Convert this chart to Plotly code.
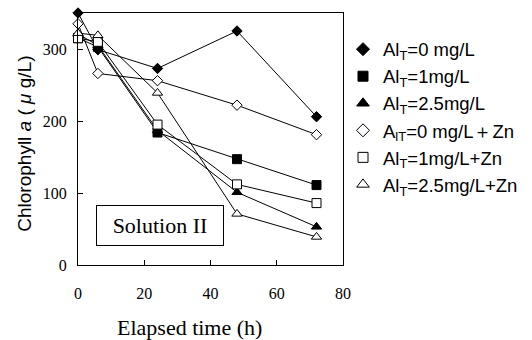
import plotly.graph_objects as go

# Elapsed time (h)
hours = [0, 6, 24, 48, 72]

# Chlorophyll a (µg/L) for each treatment, Solution II
al_0 = [350, 299, 273, 325, 206]
al_1 = [315, 303, 184, 147, 111]
al_25 = [321, 305, 187, 101, 53]
al_0_zn = [335, 266, 256, 222, 181]
al_1_zn = [315, 310, 195, 112, 86]
al_25_zn = [322, 319, 239, 71, 39]

series_names = [
    "Al<sub>T</sub>=0 mg/L",
    "Al<sub>T</sub>=1mg/L",
    "Al<sub>T</sub>=2.5mg/L",
    "A<sub>lT</sub>=0 mg/L\uff0bZn",
    "Al<sub>T</sub>=1mg/L+Zn",
    "Al<sub>T</sub>=2.5mg/L+Zn",
]
series_values = [al_0, al_1, al_25, al_0_zn, al_1_zn, al_25_zn]
symbols = ["diamond", "square", "triangle-up", "diamond", "square", "triangle-up"]
fills = ["black", "black", "black", "white", "white", "white"]
plot_sizes = [8, 9, 9, 8, 9, 9]
legend_sizes = [10, 10, 11, 10, 10, 11]

SANS = "Liberation Sans, Arial, sans-serif"
SERIF = "Liberation Serif, Times New Roman, serif"

fig = go.Figure()

for name, vals, sym, fill, ps in zip(series_names, series_values, symbols, fills, plot_sizes):
    fig.add_trace(go.Scatter(
        x=hours, y=vals, mode="lines+markers", showlegend=False,
        line=dict(color="black", width=1),
        marker=dict(symbol=sym, size=ps, color=fill, line=dict(color="black", width=1)),
        cliponaxis=False,
    ))

# marker-only legend entries
for i, (name, sym, fill, ls) in enumerate(zip(series_names, symbols, fills, legend_sizes)):
    fig.add_trace(go.Scatter(
        x=[None], y=[None], mode="markers", name=name,
        marker=dict(symbol=sym, size=ls, color=fill, line=dict(color="black", width=1)),
        legendgroup=f"g{i}",
    ))

fig.update_layout(
    width=532, height=340,
    margin=dict(l=78, r=189, t=13, b=75, autoexpand=False),
    paper_bgcolor="white", plot_bgcolor="white",
    legend=dict(
        x=1.0, y=0.93, xanchor="left", yanchor="top",
        font=dict(family=SANS, size=18.5, color="black"),
        tracegroupgap=0,
        bgcolor="rgba(0,0,0,0)",
        itemsizing="trace",
    ),
    font=dict(family=SERIF, color="black"),
)

fig.update_xaxes(
    range=[0, 80], dtick=20, tick0=0,
    showline=True, mirror=True, linecolor="black", linewidth=1,
    ticks="inside", ticklen=5, tickcolor="black",
    showgrid=False, zeroline=False,
    tickfont=dict(family=SERIF, size=16, color="black"),
    ticklabelstandoff=14,
)
fig.update_yaxes(
    range=[0, 350], dtick=100, tick0=0,
    showline=True, mirror=True, linecolor="black", linewidth=1,
    ticks="inside", ticklen=5, tickcolor="black",
    showgrid=False, zeroline=False,
    tickfont=dict(family=SERIF, size=16, color="black"),
    ticklabelstandoff=7,
)

# axis titles
fig.add_annotation(
    text="Elapsed time (h)", xref="paper", yref="paper",
    x=0.419, y=-0.247, xanchor="center", yanchor="middle", showarrow=False,
    font=dict(family=SERIF, size=22, color="black"),
)
fig.add_annotation(
    text="Chlorophyll <i>a</i> ( <i>\u03bc</i> g/L)", xref="paper", yref="paper",
    x=-0.205, y=0.48, xanchor="center", yanchor="middle", showarrow=False,
    textangle=-90,
    font=dict(family=SANS, size=19, color="black"),
)

# panel label
fig.add_annotation(
    text="Solution II", xref="x", yref="y",
    x=24.9, y=54.5, xanchor="center", yanchor="middle", showarrow=False,
    font=dict(family=SERIF, size=22, color="black"),
    bordercolor="black", borderwidth=1, borderpad=0,
    width=126, height=39, bgcolor="white",
)

fig.write_html("out.html")
